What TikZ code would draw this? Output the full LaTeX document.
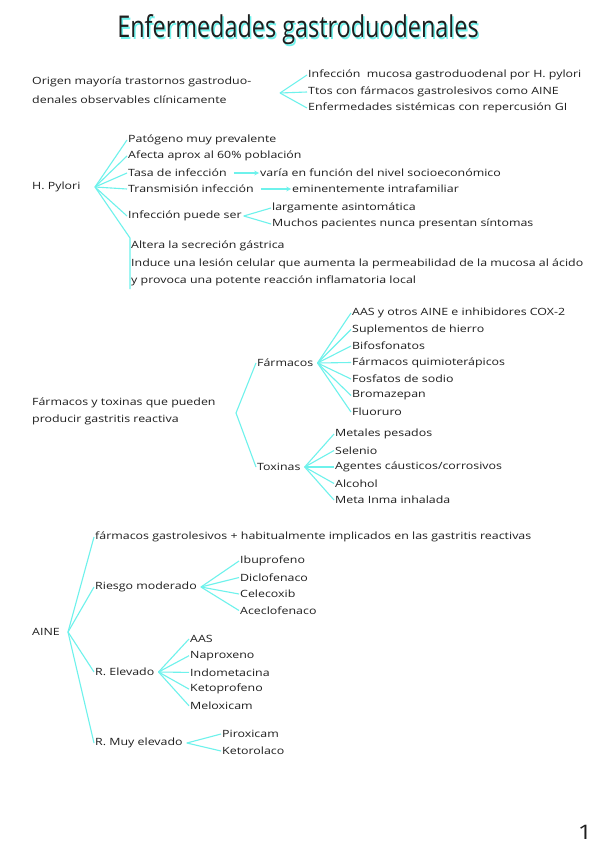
\documentclass[tikz,border=0pt]{standalone}
\usepackage{fontspec}
\setmainfont{Open Sans}[FakeStretch=1.24]
\newfontfamily\titlefont{Open Sans}[FakeStretch=0.78]
\definecolor{ink}{RGB}{30,30,30}
\definecolor{cy}{RGB}{110,242,236}
\begin{document}
\begin{tikzpicture}[x=1pt,y=1pt,
  txt/.style={anchor=west,inner sep=1pt,text=ink,font=\fontsize{10}{12}\selectfont},
  br/.style={draw=cy,line width=1.1pt},
  arr/.style={draw=cy,line width=1.1pt,-stealth}]
\useasboundingbox[fill=white] (0,0) rectangle (599,-848);
% title
\node[text=cy,font=\fontsize{30}{34}\selectfont\titlefont] at (299.5,-31.5) {Enfermedades gastroduodenales};
\node (title) [text=ink,font=\fontsize{30}{34}\selectfont\titlefont] at (298,-30) {Enfermedades gastroduodenales};
% section 1
\node (o1) [txt] at (31,-82) {Origen mayoría trastornos gastroduo-};
\node (o2) [txt] at (31,-100) {denales observables clínicamente};
\coordinate (b1) at (280,-93);
\node (i1) [txt] at (307,-75) {Infección\ \ mucosa gastroduodenal por H. pylori};
\node (i2) [txt] at (307,-92) {Ttos con fármacos gastrolesivos como AINE};
\node (i3) [txt] at (307,-108) {Enfermedades sistémicas con repercusión GI};
\foreach \n in {i1,i2,i3} \draw[br] (b1) -- (\n.west);
% section 2
\node (hp) [txt] at (31,-187) {H. Pylori};
\coordinate (b2) at (95,-187);
\node (p1) [txt] at (127,-140) {Patógeno muy prevalente};
\node (p2) [txt] at (127,-156) {Afecta aprox al 60\% población};
\node (p3) [txt] at (127,-173) {Tasa de infección};
\node (p4) [txt] at (127,-189) {Transmisión infección};
\node (p5) [txt] at (127,-216) {Infección puede ser};
\foreach \n in {p1,p2,p3,p4,p5} \draw[br] (b2) -- (\n.west);
\node (q3) [txt] at (259,-173) {varía en función del nivel socioeconómico};
\node (q4) [txt] at (291,-189) {eminentemente intrafamiliar};
\draw[arr] ([xshift=6pt]p3.east) -- (q3.west);
\draw[arr] ([xshift=6pt]p4.east) -- (q4.west);
\coordinate (b5) at ([xshift=1pt]p5.east);
\node (r1) [txt] at (271,-208) {largamente asintomática};
\node (r2) [txt] at (271,-224) {Muchos pacientes nunca presentan síntomas};
\foreach \n in {r1,r2} \draw[br] (b5) -- (\n.west);
\coordinate (v1) at (130,-238);
\coordinate (v2) at (130,-289);
\draw[br] (b2) -- (v1) -- (v2);
\node (s1) [txt] at (130,-246) {Altera la secreción gástrica};
\node (s2) [txt] at (130,-264) {Induce una lesión celular que aumenta la permeabilidad de la mucosa al ácido};
\node (s3) [txt] at (130,-281) {y provoca una potente reacción inflamatoria local};
% section 3
\node (f1) [txt] at (31,-403) {Fármacos y toxinas que pueden};
\node (f2) [txt] at (31,-420) {producir gastritis reactiva};
\coordinate (b3) at (236,-413);
\node (fa) [txt] at (256,-363) {Fármacos};
\node (tx) [txt] at (256,-467) {Toxinas};
\draw[br] (b3) -- (fa.west);
\draw[br] (b3) -- (tx.west);
\coordinate (bf) at ([xshift=3pt]fa.east);
\coordinate (bt) at ([xshift=3pt]tx.east);
\foreach \t [count=\k] in {AAS y otros AINE e inhibidores COX-2,Suplementos de hierro,Bifosfonatos,Fármacos quimioterápicos,Fosfatos de sodio,Bromazepan,Fluoruro}
  {\node (fm\k) [txt] at (351,-313-16.5*\k+16.5) {\t}; \draw[br] (bf) -- (fm\k.west);}
\foreach \t [count=\k] in {Metales pesados,Selenio,Agentes cáusticos/corrosivos,Alcohol,Meta Inma inhalada}
  {\node (tm\k) [txt] at (334,-434-16.5*\k+16.5) {\t}; \draw[br] (bt) -- (tm\k.west);}
% section 4
\node (ai) [txt] at (31,-632) {AINE};
\coordinate (b4) at (68,-632);
\node (a0) [txt] at (94,-537) {fármacos gastrolesivos + habitualmente implicados en las gastritis reactivas};
\node (a1) [txt] at (94,-587) {Riesgo moderado};
\node (a2) [txt] at (94,-672) {R. Elevado};
\node (a3) [txt] at (94,-743) {R. Muy elevado};
\foreach \n in {a0,a1,a2,a3} \draw[br] (b4) -- (\n.west);
\coordinate (ba1) at ([xshift=3pt]a1.east);
\coordinate (ba2) at ([xshift=3pt]a2.east);
\coordinate (ba3) at ([xshift=3pt]a3.east);
\foreach \t [count=\k] in {Ibuprofeno,Diclofenaco,Celecoxib,Aceclofenaco}
  {\node (m\k) [txt] at (239,-561-16.5*\k+16.5) {\t}; \draw[br] (ba1) -- (m\k.west);}
\foreach \t [count=\k] in {AAS,Naproxeno,Indometacina,Ketoprofeno,Meloxicam}
  {\node (e\k) [txt] at (189,-639-16.7*\k+16.7) {\t}; \draw[br] (ba2) -- (e\k.west);}
\foreach \t [count=\k] in {Piroxicam,Ketorolaco}
  {\node (u\k) [txt] at (221,-734-17*\k+17) {\t}; \draw[br] (ba3) -- (u\k.west);}
\node (pg) [text=ink,font=\fontsize{20}{22}\selectfont] at (585,-832) {1};
\end{tikzpicture}
\end{document}
